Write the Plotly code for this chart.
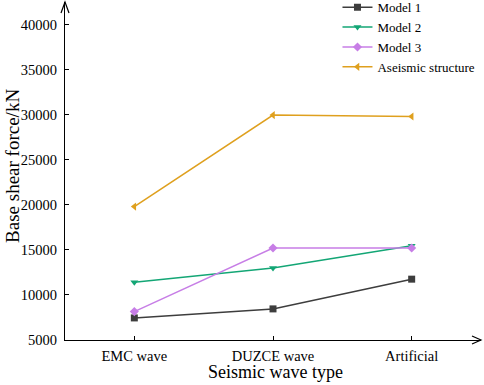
import plotly.graph_objects as go

categories = ["EMC wave", "DUZCE wave", "Artificial"]
model1 = [7450, 8450, 11750]
model2 = [11400, 13000, 15450]
model3 = [8150, 15200, 15200]
aseismic = [19800, 29950, 29800]
y_ticks = [5000, 10000, 15000, 20000, 25000, 30000, 35000, 40000]

series = [
    ("Model 1", model1, "#3d3d3d", "square"),
    ("Model 2", model2, "#13a675", "triangle-down"),
    ("Model 3", model3, "#c77ee6", "diamond"),
    ("Aseismic structure", aseismic, "#dfa01e", "triangle-left"),
]

FONT = "Liberation Serif, Times New Roman, serif"

fig = go.Figure()
for name, vals, col, sym in series:
    fig.add_trace(go.Scatter(
        x=categories, y=vals, name=name, mode="lines+markers",
        line=dict(color=col, width=1.5),
        marker=dict(symbol=sym, size=7, color=col),
    ))

fig.update_layout(
    width=484, height=385,
    margin=dict(l=65, r=3, t=2, b=45, autoexpand=False),
    paper_bgcolor="white", plot_bgcolor="white",
    font=dict(family=FONT, size=14.5, color="black"),
    showlegend=True,
    legend=dict(x=0.655, y=1.029, xanchor="left", yanchor="top",
                bgcolor="rgba(0,0,0,0)", font=dict(size=13, family=FONT),
                tracegroupgap=0, itemwidth=30),
    xaxis=dict(
        type="category", range=[-0.5, 2.5],
        showline=True, linecolor="black", linewidth=1.2,
        ticks="inside", ticklen=4, tickcolor="black",
        ticklabelstandoff=2,
        showgrid=False, zeroline=False,
    ),
    yaxis=dict(
        range=[5000, 42500],
        tickvals=y_ticks, tickformat="d",
        showline=True, linecolor="black", linewidth=1.2,
        ticks="inside", ticklen=4, tickcolor="black",
        ticklabelstandoff=4,
        showgrid=False, zeroline=False,
    ),
    annotations=[
        dict(text="Seismic wave type", xref="paper", yref="paper", x=0.505, y=0,
             yshift=-32, xanchor="center", yanchor="middle", showarrow=False,
             font=dict(size=18, family=FONT)),
        dict(text="Base shear force/kN", xref="paper", yref="paper", x=0, y=0.515,
             xshift=-52, xanchor="center", yanchor="middle", showarrow=False,
             textangle=-90, font=dict(size=19, family=FONT)),
    ],
)

# arrowheads on axes
fig.add_shape(type="path", xref="paper", yref="paper", xsizemode="pixel", ysizemode="pixel",
              xanchor=0, yanchor=1, path="M -4,-11 L 0,0 L 4,-11",
              line=dict(color="black", width=1.2))
fig.add_shape(type="path", xref="paper", yref="paper", xsizemode="pixel", ysizemode="pixel",
              xanchor=1, yanchor=0, path="M -9,4 L 0,0 L -9,-4",
              line=dict(color="black", width=1.2))

fig.write_html("out.html", config={"displayModeBar": False},
               post_script="document.body.style.margin='0';")
